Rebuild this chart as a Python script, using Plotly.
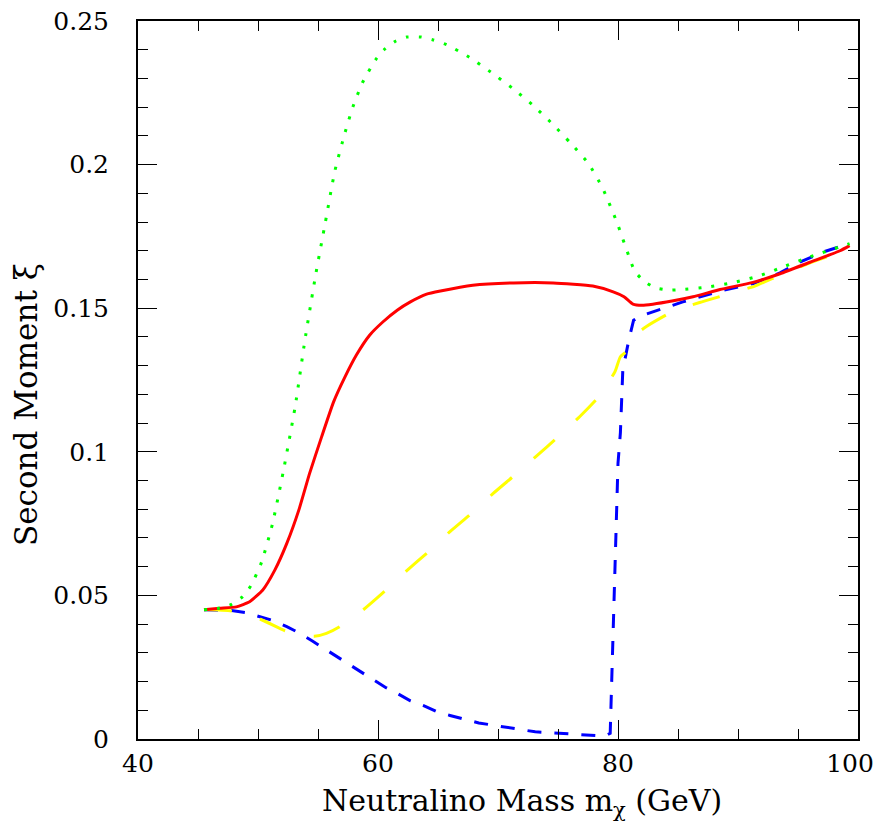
import plotly.graph_objects as go

# ---- data ----
x_red = [45.5, 46.8, 48.2, 49.3, 50.4, 51.4, 52.4, 53.4, 54.3, 55.3, 56.3, 57.25, 58.2, 59.3, 60.4,
         61.6, 62.7, 64.05, 65.2, 67.9, 71.3, 74.6, 77.9, 79.6, 80.5, 81.25, 82.0, 82.9, 84.5,
         86.25, 88.5, 91.25, 93.5, 96.0, 98.5, 99.3]
y_red = [0.045, 0.0455, 0.046, 0.0478, 0.0519, 0.0588, 0.0681, 0.0797, 0.0925, 0.1052, 0.1174,
         0.1261, 0.1337, 0.1406, 0.1452, 0.1493, 0.1522, 0.1549, 0.156, 0.158, 0.1588, 0.1588,
         0.1577, 0.1557, 0.154, 0.1514, 0.1510, 0.1514, 0.1525, 0.154, 0.1565, 0.159, 0.162,
         0.166, 0.170, 0.1718]

x_green = [45.5, 46.8, 47.8, 48.7, 49.4, 50.3, 51.2, 52.1, 53.1, 53.9, 54.8, 55.6, 56.4, 57.25,
           57.9, 58.7, 59.8, 60.5, 61.4, 62.4, 63.6, 64.6, 65.7, 67.6, 69.4, 71.2, 72.9, 74.5,
           76.0, 77.5, 78.7, 79.9, 81.0, 81.4, 82.2, 83.1, 84.2, 85.3, 87.5, 89.7, 91.8, 93.9,
           96.0, 97.0, 99.3]
y_green = [0.045, 0.0456, 0.0469, 0.0495, 0.0533, 0.0616, 0.0748, 0.093, 0.1158, 0.1386, 0.1615,
           0.1796, 0.1977, 0.2111, 0.22, 0.2285, 0.2365, 0.24, 0.2428, 0.2444, 0.2444, 0.2434,
           0.2418, 0.2374, 0.2322, 0.2266, 0.2207, 0.2143, 0.2077, 0.2006, 0.192, 0.180, 0.167,
           0.1628, 0.1593, 0.1571, 0.1563, 0.1565, 0.1574, 0.159, 0.1613, 0.1646, 0.1679,
           0.1693, 0.1725]

x_blue = [45.5, 47.8, 49.0, 50.2, 51.3, 52.4, 53.4, 54.5, 55.4, 56.6, 57.5, 58.6, 59.5, 60.6,
          61.6, 62.7, 63.8, 64.9, 66.0, 67.25, 68.4, 69.6, 70.7, 72.0, 73.1, 74.3, 76.6, 77.8,
          78.9, 79.35, 79.45, 79.6, 79.75, 79.9, 80.0, 80.2, 80.4, 80.9, 81.3, 81.8, 83.2, 84.2,
          85.4, 86.6, 87.8, 88.8, 91.3, 93.5, 95.2, 97.1, 99.3]
y_blue = [0.045, 0.0447, 0.044, 0.0426, 0.0412, 0.0391, 0.037, 0.0342, 0.0318, 0.0287, 0.0261,
          0.0232, 0.0208, 0.018, 0.0159, 0.0133, 0.0116, 0.0095, 0.0082, 0.0069, 0.0056, 0.0048,
          0.0041, 0.0031, 0.0025, 0.0022, 0.0016, 0.0013, 0.001, 0.002, 0.016, 0.0333, 0.0553,
          0.0786, 0.096, 0.1067, 0.1284, 0.1389, 0.1458, 0.1472, 0.149, 0.1505, 0.1522, 0.1536,
          0.1551, 0.1563, 0.1586, 0.1623, 0.1661, 0.1696, 0.1725]

x_yellow = [45.5, 47.8, 50.2, 52.25, 53.5, 54.7, 55.7, 56.8, 58.8, 60.6, 62.4, 64.2, 66.0, 67.8,
            69.6, 71.4, 73.2, 75.0, 76.8, 78.4, 79.75, 80.2, 80.9, 81.4, 82.4, 84.5, 86.8, 89.1,
            91.4, 93.5, 95.9, 98.0, 99.3]
y_yellow = [0.0451, 0.0446, 0.0417, 0.0377, 0.0362, 0.0358, 0.0368, 0.0391, 0.0451, 0.0516,
            0.0586, 0.0652, 0.0722, 0.0786, 0.0855, 0.0919, 0.0985, 0.1052, 0.1122, 0.1192,
            0.1279, 0.1331, 0.1356, 0.1405, 0.1437, 0.1487, 0.152, 0.1548, 0.1577, 0.1615,
            0.1656, 0.1688, 0.171]

x_tickvals = [40, 60, 80, 100]
x_ticktext = ["40", "60", "80", "100\u00a0\u00a0"]
y_tickvals = [0, 0.05, 0.1, 0.15, 0.2, 0.25]
y_ticktext = ["0", "0.05", "0.1", "0.15", "0.2", "0.25"]

FONT = "DejaVu Serif"
W, H = 885, 826
OFF = 8  # default page body margin
L, R, T, B = 138 - OFF, 27 + OFF, 21 - OFF, 87 + OFF
PW, PH = W - L - R, H - T - B


def px_to_paper(px, py):
    fx, fy = px - OFF, py - OFF
    return (fx - L) / PW, (H - fy - B) / PH


fig = go.Figure()
fig.add_trace(go.Scatter(x=x_blue, y=y_blue, mode="lines",
                         line=dict(color="#0000ff", width=3, dash="14px,13px")))
fig.add_trace(go.Scatter(x=x_yellow, y=y_yellow, mode="lines", line_shape="spline",
                         line=dict(color="#ffff00", width=3, dash="28px,29px", smoothing=0.5)))
fig.add_trace(go.Scatter(x=x_red, y=y_red, mode="lines", line_shape="spline",
                         line=dict(color="#ff0000", width=3, smoothing=0.5)))
fig.add_trace(go.Scatter(x=x_green, y=y_green, mode="lines", line_shape="spline",
                         line=dict(color="#00ff00", width=3, dash="3px,10px", smoothing=0.5)))

axis_common = dict(showgrid=False, zeroline=False, showline=True, linecolor="black",
                   linewidth=2, mirror="ticks", ticks="inside", ticklen=19, tickwidth=1,
                   tickcolor="black", automargin=False, ticklabeloverflow="allow",
                   tickfont=dict(family=FONT, size=25, color="black"))

fig.update_xaxes(range=[40, 100], tickmode="array", tickvals=x_tickvals, ticktext=x_ticktext,
                 ticklabelstandoff=1,
                 minor=dict(ticks="inside", ticklen=10, tickwidth=1, tickcolor="black", dtick=5,
                            tick0=40),
                 **axis_common)
fig.update_yaxes(range=[0, 0.25], tickmode="array", tickvals=y_tickvals, ticktext=y_ticktext,
                 ticklabelstandoff=22,
                 minor=dict(ticks="inside", ticklen=10, tickwidth=1, tickcolor="black",
                            dtick=0.01, tick0=0),
                 **axis_common)

xt_x, xt_y = px_to_paper(522, 802)
yt_x, yt_y = px_to_paper(26, 405)
fig.update_layout(
    width=W, height=H, showlegend=False,
    paper_bgcolor="white", plot_bgcolor="white",
    margin=dict(l=L, r=R, t=T, b=B),
    annotations=[
        dict(text="Neutralino Mass m<sub>χ</sub> (GeV)", xref="paper", yref="paper",
             x=xt_x, y=xt_y, xanchor="center", yanchor="middle",
             showarrow=False, font=dict(family=FONT, size=30, color="black")),
        dict(text="Second Moment ξ", xref="paper", yref="paper",
             x=yt_x, y=yt_y, xanchor="center", yanchor="middle",
             textangle=-90, showarrow=False, font=dict(family=FONT, size=31, color="black")),
    ],
)

fig.write_html("out.html")
